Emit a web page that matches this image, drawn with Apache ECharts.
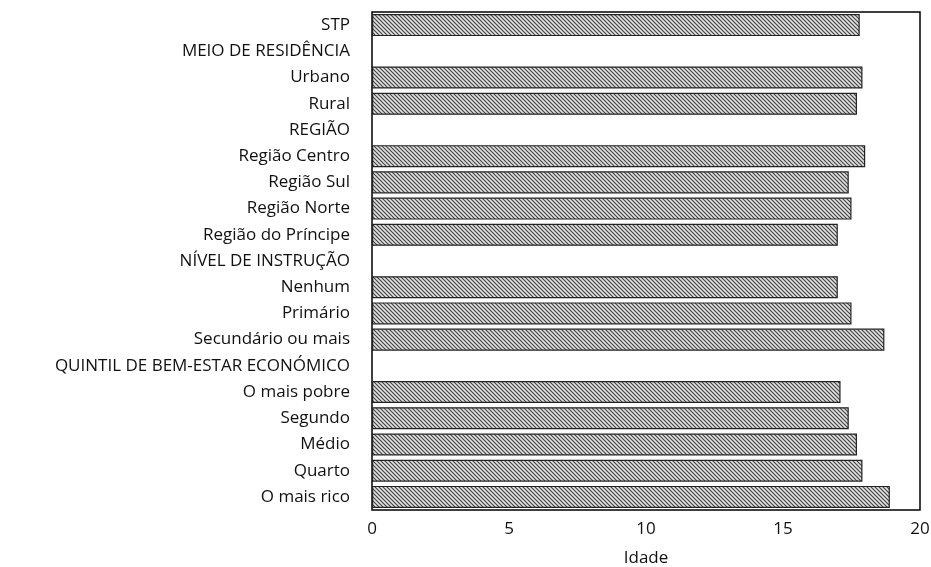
<!DOCTYPE html>
<html>
<head>
<meta charset="utf-8">
<script src="https://cdn.jsdelivr.net/npm/echarts@6/dist/echarts.min.js"></script>
<style>
  html, body { margin: 0; padding: 0; background: #fff; }
  #chart { width: 931px; height: 567px; }
</style>
</head>
<body>
<div id="chart"></div>
<script>
// categorias (os títulos de grupo não têm barra)
var categories = [
  "STP", "MEIO DE RESIDÊNCIA", "Urbano", "Rural", "REGIÃO",
  "Região Centro", "Região Sul", "Região Norte", "Região do Príncipe",
  "NÍVEL DE INSTRUÇÃO", "Nenhum", "Primário", "Secundário ou mais",
  "QUINTIL DE BEM-ESTAR ECONÓMICO",
  "O mais pobre", "Segundo", "Médio", "Quarto", "O mais rico"
];
var values = [
  17.8, null, 17.9, 17.7, null,
  18.0, 17.4, 17.5, 17.0,
  null, 17.0, 17.5, 18.7,
  null,
  17.1, 17.4, 17.7, 17.9, 18.9
];
var xTicks = [0, 5, 10, 15, 20];

// padrão tracejado diagonal
function hatch() {
  var c = document.createElement("canvas");
  c.width = 4;
  c.height = 4;
  var ctx = c.getContext("2d");
  ctx.fillStyle = "#e2e2e2";
  ctx.fillRect(0, 0, 4, 4);
  ctx.strokeStyle = "#444";
  ctx.lineWidth = 1.2;
  ctx.beginPath();
  ctx.moveTo(-1, -1); ctx.lineTo(5, 5);
  ctx.moveTo(-1, 3); ctx.lineTo(1, 5);
  ctx.moveTo(3, -1); ctx.lineTo(5, 1);
  ctx.stroke();
  return c;
}

var font = "Open Sans";
var myChart = echarts.init(document.getElementById("chart"));
var option = {
  animation: false,
  textStyle: { fontFamily: font },
  grid: {
    left: 372, right: 11, top: 12, bottom: 57,
    show: true, borderColor: "#000", borderWidth: 1.5,
    containLabel: false,
    outerBoundsMode: "none"
  },
  xAxis: {
    type: "value",
    min: xTicks[0], max: xTicks[xTicks.length - 1], interval: 5,
    name: "Idade", nameLocation: "middle", nameGap: 40,
    nameTextStyle: { fontFamily: font, fontSize: 17, color: "#111" },
    axisLine: { show: false },
    axisTick: { show: false },
    splitLine: { show: false },
    axisLabel: { fontFamily: font, fontSize: 17, color: "#111", margin: 11 }
  },
  yAxis: {
    type: "category",
    data: categories,
    inverse: true,
    axisLine: { show: false },
    axisTick: { show: false },
    axisLabel: { fontFamily: font, fontSize: 17, color: "#111", margin: 22 }
  },
  series: [{
    type: "bar",
    data: values,
    barCategoryGap: "16%",
    itemStyle: {
      color: { image: hatch(), repeat: "repeat" },
      borderColor: "#222",
      borderWidth: 1.2
    }
  }]
};
myChart.setOption(option);
window.onresize = function () { myChart.resize(); };
</script>
</body>
</html>
